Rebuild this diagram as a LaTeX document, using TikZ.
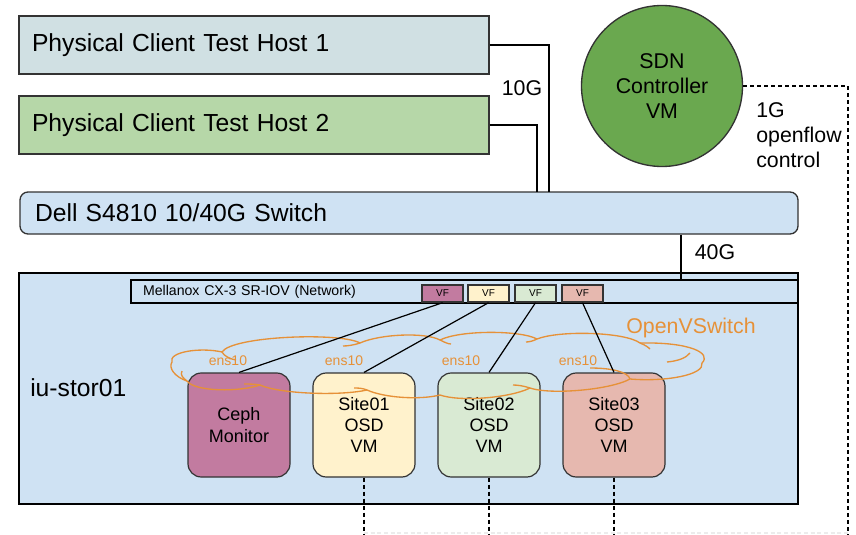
\documentclass[tikz,border=0pt]{standalone}
\usepackage{fontspec}
\setmainfont{Liberation Sans}
\definecolor{hostA}{HTML}{D0E0E3}
\definecolor{hostB}{HTML}{B6D7A8}
\definecolor{swblue}{HTML}{CFE2F3}
\definecolor{sdngreen}{HTML}{6AA84F}
\definecolor{cephc}{HTML}{C27BA0}
\definecolor{siteA}{HTML}{FFF2CC}
\definecolor{siteB}{HTML}{D9EAD3}
\definecolor{siteC}{HTML}{E6B8AF}
\definecolor{ovs}{HTML}{E69138}
\definecolor{edge}{HTML}{333333}
\begin{document}
\begin{tikzpicture}[x=0.75pt,y=-0.75pt,
  bigfont/.style={font=\fontsize{18.5}{22}\selectfont},
  midfont/.style={font=\fontsize{16}{18.75}\selectfont},
  hostbox/.style={draw=edge, line width=1pt, minimum height=43.5pt, text width=333pt,
    inner xsep=9.75pt, inner ysep=0pt, align=left, bigfont},
  vfbox/.style={draw=edge, line width=1.1pt, minimum width=30.75pt, minimum height=12.75pt,
    inner sep=0pt, font=\fontsize{7.5}{8}\selectfont},
  vmbox/.style={draw=edge, line width=0.9pt, rounded corners=10pt, minimum width=76.5pt,
    minimum height=78pt, inner sep=0pt, align=center, font=\fontsize{13.5}{16}\selectfont},
  wire/.style={line width=0.9pt, black},
  dashline/.style={line width=1pt, black, dash pattern=on 3pt off 2.25pt},
  cloudline/.style={draw=ovs, line width=1pt},
  enslabel/.style={text=ovs, font=\fontsize{10.5}{12}\selectfont, inner sep=0pt}]
\useasboundingbox (0,0) rectangle (856,535);

% hosts and switch
\node[hostbox, fill=hostA] (h1) at (254,45) {Physical Client Test Host 1};
\node[hostbox, fill=hostB] (h2) at (254,125) {Physical Client Test Host 2};
\node[draw=edge, line width=1pt, fill=swblue, rounded corners=6pt, minimum height=31.5pt,
  text width=561pt, inner xsep=11.25pt, inner ysep=0pt, align=left, bigfont] (sw) at (409,213)
  {Dell S4810 10/40G Switch};

% SDN controller
\node[circle, draw=edge, line width=1pt, fill=sdngreen, minimum size=120.75pt, inner sep=0pt,
  align=center, midfont] (sdn) at (662,86) {SDN\\Controller\\VM};

% server box
\node[draw=black, line width=1.5pt, fill=swblue, minimum width=584.25pt, minimum height=173.25pt,
  inner sep=0pt] (stor) at (408.5,388.5) {};
\node[anchor=west, bigfont, inner sep=0pt] (storl) at (30,388) {iu-stor01};
\node[draw=black, line width=1.1pt, fill=swblue, minimum height=17.25pt, text width=482.25pt,
  inner xsep=9pt, inner ysep=0pt, align=left, font=\fontsize{10.6}{12}\selectfont] (mel)
  at (464.5,291.5) {Mellanox CX-3 SR-IOV (Network)};

\node[vfbox, fill=cephc] (vf1) at (442.5,293.5) {VF};
\node[vfbox, fill=siteA] (vf2) at (488.5,293.5) {VF};
\node[vfbox, fill=siteB] (vf3) at (535.5,293.5) {VF};
\node[vfbox, fill=siteC] (vf4) at (582.5,293.5) {VF};

\node[vmbox, fill=cephc] (ceph) at (239,425) {Ceph\\Monitor};
\node[vmbox, fill=siteA] (s1) at (364,425) {Site01\\OSD\\VM};
\node[vmbox, fill=siteB] (s2) at (489,425) {Site02\\OSD\\VM};
\node[vmbox, fill=siteC] (s3) at (614,425) {Site03\\OSD\\VM};

% OpenVSwitch cloud (drawn directly)
\draw[cloudline]
  (172,362) .. controls (168,352) and (200,347) .. (222,352)
  .. controls (232,336) and (340,332) .. (360,343)
  .. controls (380,334) and (425,332) .. (440,340)
  .. controls (460,330) and (520,330) .. (537,339)
  .. controls (560,330) and (625,332) .. (640,343)
  .. controls (690,342) and (712,353) .. (702,363)
  .. controls (705,375) and (665,382) .. (630,379)
  .. controls (610,390) and (550,395) .. (530,388)
  .. controls (510,398) and (460,402) .. (440,395)
  .. controls (420,400) and (385,398) .. (367,390)
  .. controls (340,396) and (280,394) .. (260,385)
  .. controls (240,392) and (195,392) .. (187,381)
  .. controls (175,377) and (168,368) .. (172,362) -- cycle;
% inner arcs of the cloud
\draw[cloudline] (222,352) .. controls (224,356) and (230,359) .. (236,360);
\draw[cloudline] (360,343) .. controls (354,345) and (348,346) .. (343,346);
\draw[cloudline] (440,340) .. controls (444,342) and (448,344) .. (451,344);
\draw[cloudline] (537,339) .. controls (533,341) and (529,342) .. (526,342);
\draw[cloudline] (640,343) .. controls (645,345) and (648,347) .. (650,349);
\draw[cloudline] (667,362) .. controls (678,361) and (686,358) .. (690,353);
\draw[cloudline] (590,368) .. controls (612,368) and (628,372) .. (630,379);
\draw[cloudline] (530,388) .. controls (524,386) and (518,385) .. (513,385);
\draw[cloudline] (367,390) .. controls (362,388) and (358,388) .. (354,388);
\draw[cloudline] (260,385) .. controls (254,384) and (249,384) .. (244,384);
\draw[cloudline] (187,381) .. controls (183,378) and (180,375) .. (182,371);

\node[text=ovs, midfont, inner sep=0pt] (ovsl) at (691,328) {OpenVSwitch};
\node[enslabel] (e1) at (228,361) {ens10};
\node[enslabel] (e2) at (344,361) {ens10};
\node[enslabel] (e3) at (461,361) {ens10};
\node[enslabel] (e4) at (578,361) {ens10};

% wires
\coordinate (j1) at (549,192);
\coordinate (j2) at (537,192);
\coordinate (j40) at (681,0);
\draw[wire] (h1.east) -| (j1);
\draw[wire] (h2.east) -| (j2);
\draw[wire] (sw.south -| j40) -- (mel.north -| j40);
\node[midfont, inner sep=0pt] (l10) at (522,88) {10G};
\node[midfont, inner sep=0pt] (l40) at (715,252) {40G};
\node[anchor=west, align=left, midfont, inner sep=0pt] (l1g) at (756,135) {1G\\openflow\\control};

\draw[wire] (vf1.south) -- (ceph.north);
\draw[wire] (vf2.south) -- (s1.north);
\draw[wire] (vf3.south) -- (s2.north);
\draw[wire] (vf4.south) -- (s3.north);

% dashed control links
\coordinate (bot) at (848,535);
\coordinate (fb) at (848,533);
\draw[dashline] (sdn.east) -| (bot);
\draw[dashline] (s1.south) -- (s1.south |- bot);
\draw[dashline] (s2.south) -- (s2.south |- bot);
\draw[dashline] (s3.south) -- (s3.south |- bot);
\draw[gray!15, line width=0.8pt, dash pattern=on 3pt off 2pt] (s1.south |- fb) -- (fb);
\end{tikzpicture}
\end{document}
